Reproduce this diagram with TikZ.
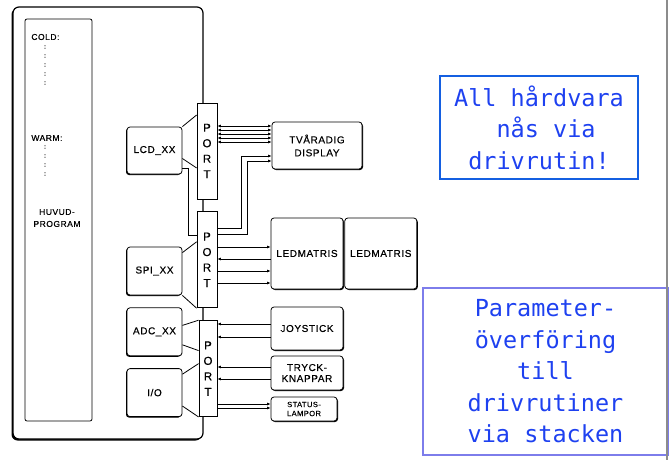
\documentclass[tikz,border=0pt]{standalone}
\usepackage{fontspec}
\setmainfont{Liberation Sans}[LetterSpace=6,FakeBold=0.4]
\newfontfamily\notefont{DejaVu Sans Mono}
\usepackage{xcolor}
\usepackage{tikz}
\usetikzlibrary{arrows.meta,shapes,positioning,calc,shadows}

\definecolor{notetext}{RGB}{30,65,240}
\definecolor{noteblue}{RGB}{20,95,225}
\definecolor{notelilac}{RGB}{125,125,235}
\definecolor{edgegray}{RGB}{140,140,140}

\begin{document}
\begin{tikzpicture}[x=1pt,y=-1pt,line width=0.8pt,
  >={Latex[length=3.5pt,width=3pt]},
  lbox/.style={draw,rounded corners=3pt,fill=white,inner sep=0pt,minimum width=55pt,
               minimum height=48pt,align=center,font=\fontsize{10}{12}\selectfont,
               drop shadow={shadow xshift=-1pt,shadow yshift=-1pt,opacity=1,fill=black}},
  rbox/.style={draw,rounded corners=3pt,fill=white,inner sep=0pt,minimum width=72pt,
               align=center,font=\fontsize{10}{12}\selectfont,
               drop shadow={shadow xshift=1pt,shadow yshift=-1pt,opacity=1,fill=black}},
  port/.style={draw,fill=white,inner sep=0pt,minimum width=20pt,minimum height=96pt,
               align=center,font=\fontsize{11.5}{15.5}\selectfont},
  small/.style={inner sep=0pt,align=center,font=\fontsize{8.5}{9}\selectfont},
  dots/.style={inner sep=0pt,align=center,font=\fontsize{6}{9}\selectfont},
  note/.style={draw,line width=2pt,align=center,text=notetext,
               font=\notefont\fontsize{23.5}{31.5}\selectfont}]
  \useasboundingbox (0,0) rectangle (672,460);

  % processor with main program
  \node[draw,rounded corners=6pt,line width=1.2pt,fill=white,minimum width=190pt,
        minimum height=432pt,
        drop shadow={shadow xshift=-1.5pt,shadow yshift=-1.5pt,opacity=1,fill=black}]
        (mcu) at (108,223) {};
  \node[draw,rounded corners=2pt,minimum width=67pt,minimum height=402pt] (prog) at (58.5,220) {};
  \node[small,anchor=west] (cold) at (31,37) {COLD:};
  \node[dots] (colddots) at (45,65) {:\\:\\:\\:\\:};
  \node[small,anchor=west] (warm) at (31,138) {WARM:};
  \node[dots] (warmdots) at (45,160.5) {:\\:\\:\\:};
  \node[small,font=\fontsize{8.5}{12}\selectfont] (huvud) at (57,218) {HUVUD-\\PROGRAM};

  % drivers
  \node[lbox,minimum height=47pt] (lcd) at (154.5,150.5) {LCD\_XX};
  \node[lbox] (spi) at (154.5,271) {SPI\_XX};
  \node[lbox,below=12pt of spi] (adc) {ADC\_XX};
  \node[lbox,below=12pt of adc] (io) {I/O};

  % ports
  \node[port] (p1) at (207,151) {P\\O\\R\\T};
  \node[port,below=12pt of p1] (p2) {P\\O\\R\\T};
  \node[port,minimum width=18pt,below=12pt of p2,xshift=1pt] (p3) {P\\O\\R\\T};

  \draw (lcd.north east) -- ([yshift=36pt]p1.west);
  \draw ([yshift=-8pt]lcd.east) -- ([yshift=-17pt]p1.west);
  \draw ([yshift=-6pt]spi.north east) -- ([yshift=18pt]p2.west);
  \draw (spi.south east) -- (p2.south west);
  \draw ([yshift=-18pt]adc.north east) -- (p3.north west);
  \draw ([yshift=-13pt]adc.east) -- ([yshift=18pt]p3.west);
  \draw ([yshift=-6pt]io.north east) -- ([yshift=5pt]p3.west);
  \draw ([yshift=11pt]io.south east) -- (p3.south west);
  \draw ([yshift=-17.5pt]lcd.east) -- ++(6,0) |- ([yshift=24pt]p2.west);

  % hardware
  \node[rbox,minimum width=90pt,minimum height=47pt,font=\fontsize{10}{13}\selectfont]
        (disp) at (317,145.5) {TVÅRADIG\\DISPLAY};
  \node[rbox,minimum height=71pt] (led1) at (307,253.5) {LEDMATRIS};
  \node[rbox,minimum height=71pt,right=1pt of led1] (led2) {LEDMATRIS};
  \node[rbox,minimum height=43pt] (joy) at (307,328.5) {JOYSTICK};
  \node[rbox,minimum height=34pt,font=\fontsize{10}{11}\selectfont] (tryck) at (307,373) {TRYCK-\\KNAPPAR};
  \node[rbox,minimum width=66pt,minimum height=24pt,font=\fontsize{7.5}{9}\selectfont]
        (status) at (304,409) {STATUS-\\LAMPOR};

  \draw[<->] (p1.east |- 0,126) -- (disp.west |- 0,126);
  \draw[<->] (p1.east |- 0,130) -- (disp.west |- 0,130);
  \draw[<->] (p1.east |- 0,134) -- (disp.west |- 0,134);
  \draw[<->] (p1.east |- 0,138) -- (disp.west |- 0,138);
  \draw[<->] (p1.east |- 0,142) -- (disp.west |- 0,142);
  \draw[->] (p2.east |- 0,228) -| (241,156) -- (disp.west |- 0,156);
  \draw[->] (p2.east |- 0,234) -| (247,161) -- (disp.west |- 0,161);
  \draw[->] (p2.east |- 0,247) -- (led1.west |- 0,247);
  \draw[<-] (p2.east |- 0,259) -- (led1.west |- 0,259);
  \draw[->] (p2.east |- 0,271) -- (led1.west |- 0,271);
  \draw[->] (p2.east |- 0,283) -- (led1.west |- 0,283);
  \draw[->] (joy.west |- 0,324) -- (p3.east |- 0,324);
  \draw[->] (joy.west |- 0,337) -- (p3.east |- 0,337);
  \draw[->] (tryck.west |- 0,367) -- (p3.east |- 0,367);
  \draw[->] (tryck.west |- 0,379) -- (p3.east |- 0,379);
  \draw[->] (p3.east |- 0,404) -- (status.west |- 0,404);
  \draw[->] (p3.east |- 0,408) -- (status.west |- 0,408);

  % notes
  \node[note,draw=noteblue,minimum width=198pt,minimum height=103pt]
        (hw) at (539,127.5) {All hårdvara\\\hphantom{n}nås via\\drivrutin!};
  \node[note,draw=notelilac,minimum width=245pt,minimum height=167pt]
        (param) at (545.5,371.5) {Parameter-\\överföring\\till\\drivrutiner\\via stacken};
  \draw[edgegray,line width=2pt] (667,0) -- (667,460);
\end{tikzpicture}
\end{document}
